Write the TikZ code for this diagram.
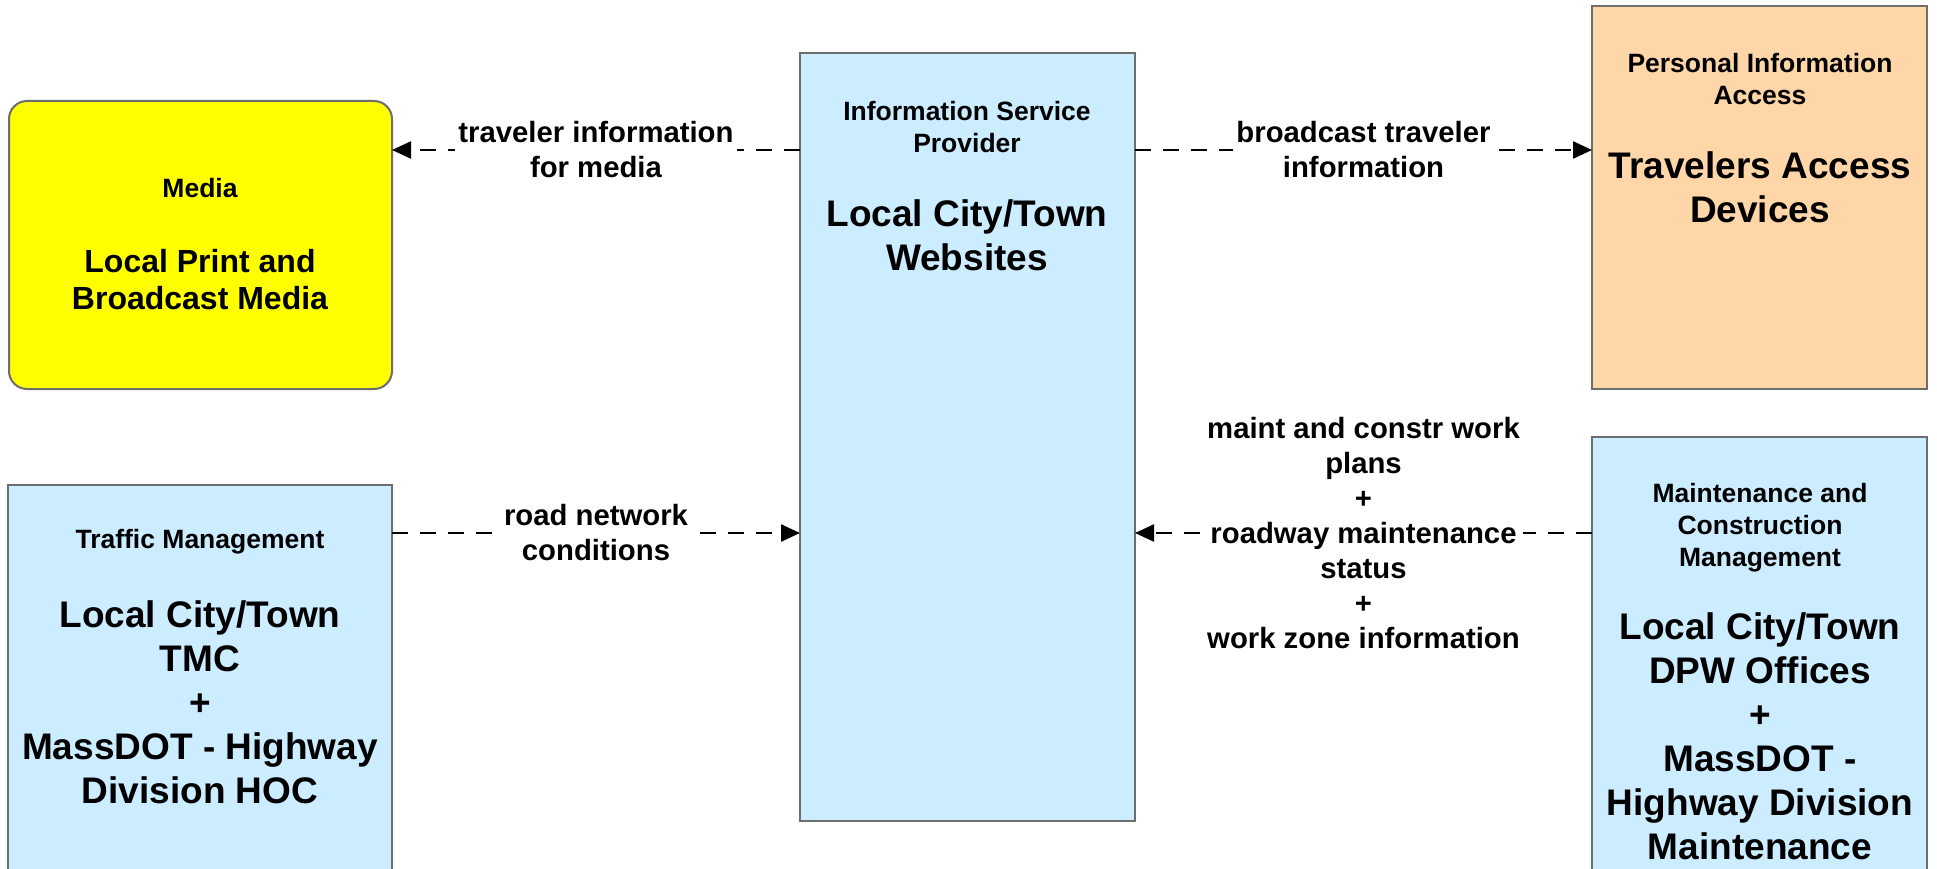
\documentclass[tikz,border=0pt]{standalone}
\usepackage{fontspec}
\setmainfont{Liberation Sans}
\usetikzlibrary{arrows.meta,calc}
\definecolor{boxblue}{RGB}{204,236,255}
\definecolor{peach}{RGB}{255,214,168}
\definecolor{mediayellow}{RGB}{255,255,0}
\definecolor{edgegray}{RGB}{110,110,110}
\begin{document}
\begin{tikzpicture}[x=1pt,y=-1pt,
  sysbox/.style={draw=edgegray, line width=2pt, anchor=north west, inner sep=0pt, outer sep=0pt},
  smalltxt/.style={font=\fontsize{26.5}{32}\selectfont\bfseries, align=center, inner sep=0pt},
  bigtxt/.style={font=\fontsize{37}{44}\selectfont\bfseries, align=center, inner sep=0pt},
  lbl/.style={font=\fontsize{29.3}{35}\selectfont\bfseries, align=center, fill=white, inner sep=3pt},
  flow/.style={draw=black, line width=2.4pt, dash pattern=on 16pt off 12pt, -{Triangle[length=19pt,width=17pt]}}
]
\useasboundingbox (0,0) rectangle (1937,869);
\fill[white] (0,0) rectangle (1937,869);

% boxes
\node[sysbox, fill=mediayellow, rounded corners=18pt, minimum width=383pt, minimum height=288pt] (media) at (9,101) {};
\node[sysbox, fill=boxblue, minimum width=335pt, minimum height=768pt] (isp) at (800,53) {};
\node[sysbox, fill=peach, minimum width=335pt, minimum height=383pt] (pia) at (1592,6) {};
\node[sysbox, fill=boxblue, minimum width=384pt, minimum height=430pt] (tm) at (8,485) {};
\node[sysbox, fill=boxblue, minimum width=335pt, minimum height=470pt] (mcm) at (1592,437) {};

% box texts
\node[smalltxt] (mediaT) at (200,188) {Media};
\node[font=\fontsize{32}{37}\selectfont\bfseries, align=center, inner sep=0pt] (mediaN) at (200,279.5) {Local Print and\\Broadcast Media};

\node[smalltxt] (ispT) at (967,127) {Information Service\\Provider};
\node[bigtxt] (ispN) at (967,235) {Local City/Town\\Websites};

\node[smalltxt] (piaT) at (1760,79) {Personal Information\\Access};
\node[bigtxt] (piaN) at (1760,187.5) {Travelers Access\\Devices};

\node[smalltxt] (tmT) at (200,542) {Traffic Management};
\node[bigtxt] (tmN) at (200,702) {Local City/Town\\TMC\\+\\MassDOT - Highway\\Division HOC};

\node[smalltxt] (mcmT) at (1760,527.5) {Maintenance and\\Construction\\Management};
\node[bigtxt, anchor=north] (mcmN) at (1760,612) {Local City/Town\\DPW Offices\\+\\MassDOT -\\Highway Division\\Maintenance};

% connector levels
\coordinate (ytop) at (0,150);
\coordinate (ybot) at (0,533);

% connectors
\draw[flow] (isp.west |- ytop) -- node[lbl] (l1) {traveler information\\for media} (media.east |- ytop);
\draw[flow] (isp.east |- ytop) -- node[lbl] (l2) {broadcast traveler\\information} (pia.west |- ytop);
\draw[flow] (tm.east |- ybot) -- node[lbl] (l3) {road network\\conditions} (isp.west |- ybot);
\draw[flow] (mcm.west |- ybot) -- node[lbl] (l4) {maint and constr work\\plans\\+\\roadway maintenance\\status\\+\\work zone information} (isp.east |- ybot);
\end{tikzpicture}
\end{document}
